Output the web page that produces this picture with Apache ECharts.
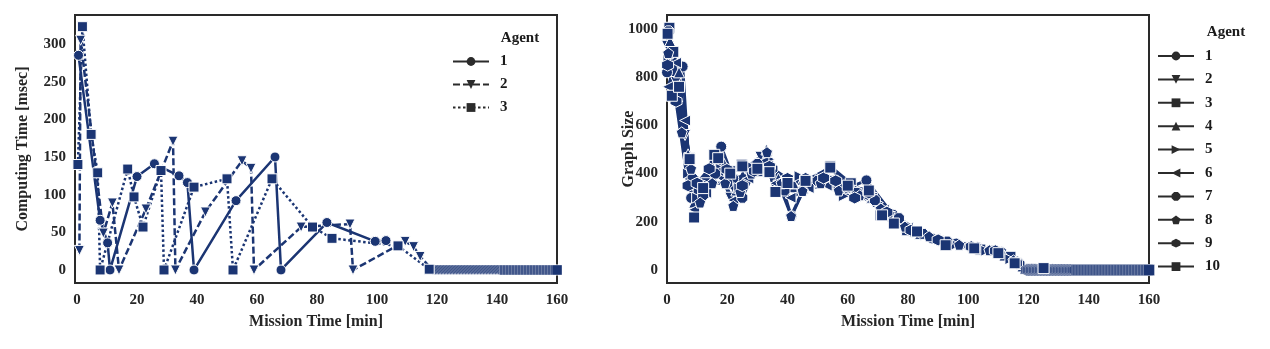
<!DOCTYPE html>
<html><head><meta charset="utf-8">
<script src="https://cdn.jsdelivr.net/npm/echarts@6/dist/echarts.min.js"></script>
<style>
html,body{margin:0;padding:0;background:#fff;width:1270px;height:349px;overflow:hidden}
#c1{position:absolute;left:0;top:0;width:600px;height:349px}
#c2{position:absolute;left:600px;top:0;width:670px;height:349px}
</style>
</head><body><div id="c1"></div><div id="c2"></div>
<script>
// ---------- DATA ----------
const xTicks = [0, 20, 40, 60, 80, 100, 120, 140, 160];
const leftYTicks = [0, 50, 100, 150, 200, 250, 300];
const rightYTicks = [0, 200, 400, 600, 800, 1000];
const leftAgents = ['1', '2', '3'];
const rightAgents = ['1', '2', '3', '4', '5', '6', '7', '8', '9', '10'];

// Computing time [msec] vs mission time [min]
const comp1 = [[0.5,285],[7.7,66],[10.2,36],[11,0],[20,124],[25.8,141],[34,125],[36.8,116],[39,0],[53,92],[66,150],[68,0],[83.3,63],[99.4,38],[103,39]];
const comp2 = [[0.8,26],[1.2,305],[8.8,49],[11.8,89],[14,0],[23,81],[32,171],[32.8,0],[42.8,77],[55,145],[58,135],[59,0],[74.7,57],[91,61],[92,0],[109.4,38],[112.2,31],[114.4,18]];
const comp2TailTimes = [118.5,119,119.5,120,120.5,121,121.5,122,122.5,123,123.5,124,124.5,125,125.5,126,126.5,127,127.5,128,128.5,129,129.5,130,130.5,131,131.5,132,132.5,133,133.5,134,134.5,135,135.5,136,136.5,137,137.5,138,138.5,139,139.5,140,140.5,141,141.5,142];
const comp3 = [[0.3,140],[1.8,323],[4.7,180],[6.9,129],[7.7,0],[16.9,134],[19,97],[22,57],[28,132],[29,0],[39,110],[50,121],[52,0],[65,121],[78.5,57],[85,42],[107,32],[117.4,1]];
const comp3TailTimes = [142.5,143,143.5,144,144.5,145,145.5,146,146.5,147,147.5,148,148.5,149,149.5,150,150.5,151,151.5,152,152.5,153,153.5,154,154.5,155,155.5,156,156.5,157,157.5,158,158.5,159,159.5,160];

// Graph size vs mission time [min]
const graph1 = [[0,820],[5.2,844],[8,299],[11,330],[18,512],[22,380],[28.2,400],[33.2,482],[41.3,223],[46,350],[52.6,379],[60,340],[66.2,372],[75,230],[81.4,158],[88,131],[96,110],[103,95],[111,75],[118.4,8],[128,3]];
const graph2 = [[0,930],[3,780],[6,560],[9.5,330],[13,360],[17,430],[21,300],[26,420],[31,470],[37,350],[43,370],[49,360],[55,370],[61,330],[67,300],[74,220],[82,160],[90,120],[100,95],[108,80],[115,35],[121,5],[130,2]];
const graph3 = [[0.8,1005],[2.1,905],[7.4,464],[10.5,330],[15.7,478],[21,410],[24.8,437],[30,410],[34,406],[36,324],[39.8,361],[47,360],[54.2,430],[61,360],[68,299],[70.9,227],[79.7,165],[92.5,103],[104,85],[114,55],[119,5],[126,2]];
const graph4 = [[1,950],[4,820],[7,480],[9,280],[15.3,380],[19,440],[23,330],[29,420],[33,500],[37,380],[42,360],[48,370],[55,360],[62,320],[68,300],[76,210],[84,150],[94,110],[104,90],[112,60],[118,15],[125,4]];
const graph5 = [[0.5,880],[3.5,700],[7,400],[10,300],[14,350],[18,420],[24,340],[28,430],[34,460],[38,340],[44,390],[51,380],[58.7,306],[64,330],[70,280],[78,200],[86,145],[96,105],[106,80],[114,45],[120,6],[128,3]];
const graph6 = [[0.3,760],[3,860],[6,620],[9,250],[13,320],[17,410],[22,290],[27,380],[32,450],[36,360],[41,300],[47,340],[53,350],[59,340],[65,310],[72,250],[80,175],[89,130],[99,100],[108,78],[116,30],[122,4]];
const graph7 = [[0.5,990],[4,760],[8.5,380],[12,310],[16,400],[20,360],[25,300],[30,440],[35,420],[39,330],[45,328],[50,370],[57,340],[63,320],[69,290],[77,215],[85,150],[93,118],[102,92],[110,72],[117,25],[124,3]];
const graph8 = [[0.4,900],[4.9,571],[8,420],[11,280],[15,360],[19.3,360],[22,266],[24.3,324],[28,400],[33.2,489],[38,360],[41.2,224],[45,328],[51,360],[57,330],[64,310],[71,255],[79,180],[87,140],[97,105],[107,82],[115,40],[121,5]];
const graph9 = [[0.2,850],[3,700],[7,350],[10,360],[14,420],[19.9,417],[25,350],[29,410],[34,430],[40,380],[46,380],[52,382],[56,370],[62.3,299],[67,320],[73,240],[81,165],[90,125],[101,97],[109,80],[116,28]];
const graph9TailTimes = [119.5,120,120.5,121,121.5,122,122.5,123,123.5,124,124.5,125,125.5,126,126.5,127,127.5,128,128.5,129,129.5,130,130.5,131,131.5,132,132.5,133,133.5,134,134.5,135,135.5];
const graph10 = [[0.2,980],[1.6,723],[4,760],[7.5,460],[9,218],[12,340],[17,464],[21,400],[25,430],[30,420],[34,406],[36,324],[40,361],[46,370],[54.2,425],[60,350],[67,330],[71.4,227],[75.3,193],[83,160],[92.5,103],[102,90],[110,70],[115.4,28],[125,8]];
const graph10TailTimes = [136,136.5,137,137.5,138,138.5,139,139.5,140,140.5,141,141.5,142,142.5,143,143.5,144,144.5,145,145.5,146,146.5,147,147.5,148,148.5,149,149.5,150,150.5,151,151.5,152,152.5,153,153.5,154,154.5,155,155.5,156,156.5,157,157.5,158,158.5,159,159.5,160];

// ---------- STYLE ----------
const NAVY = '#1b3573';
const FONT = '"Liberation Serif","DejaVu Serif",serif';
const INK = '#262626';
const SYM = {
  circle: 'circle',
  down: 'path://M0,0L10,0L5,8.7Z',
  square: 'rect',
  up: 'path://M5,0L10,8.7L0,8.7Z',
  right: 'path://M0,0L8.7,5L0,10Z',
  left: 'path://M8.7,0L0,5L8.7,10Z',
  octagon: 'path://M2.93,0L7.07,0L10,2.93L10,7.07L7.07,10L2.93,10L0,7.07L0,2.93Z',
  pentagon: 'path://M5,0L10,3.8L8.1,10L1.9,10L0,3.8Z',
  hexagon: 'path://M5,0L9.33,2.5L9.33,7.5L5,10L0.67,7.5L0.67,2.5Z'
};
// dense zero-valued tail: thinner white marker edge so the overlap reads as a dark hatch
const withTail = (pts, times) => pts.concat(times.map(t => ({ value: [t, 0], itemStyle: { borderWidth: 0.35 } })));

function mk(name, pts, symbol, size, dash, lw) {
  return {
    name, type: 'line', data: pts, symbol, symbolSize: size, showSymbol: true,
    clip: true, animation: false,
    lineStyle: { color: NAVY, width: lw, type: dash },
    itemStyle: { color: NAVY, borderColor: '#fff', borderWidth: 1 },
    emphasis: { disabled: true }
  };
}
function labelStyle(vals, margin) {
  return { customValues: vals, margin, formatter: v => String(v), fontFamily: FONT, fontWeight: 'bold', fontSize: 15, color: INK };
}
const nameStyle = { fontFamily: FONT, fontWeight: 'bold', fontSize: 16, color: INK };

function baseOption(gridLeft, ymin, ymax, yTicks, yName, yGap) {
  return {
    animation: false,
    grid: { left: gridLeft, top: 15, width: 482, height: 268, show: true, borderColor: '#2a2a2a', borderWidth: 2, backgroundColor: '#fff' },
    xAxis: {
      type: 'value', min: gridLeft === 75 ? -0.67 : 0, max: 160,
      axisLine: { show: false }, axisTick: { show: false }, splitLine: { show: false },
      axisLabel: labelStyle(xTicks, 10),
      name: 'Mission Time [min]', nameLocation: 'middle', nameGap: 31, nameTextStyle: nameStyle,
      nameMoveOverlap: false
    },
    yAxis: {
      type: 'value', min: ymin, max: ymax,
      axisLine: { show: false }, axisTick: { show: false }, splitLine: { show: false },
      axisLabel: labelStyle(yTicks, 9),
      name: yName, nameLocation: 'middle', nameRotate: 90, nameGap: yGap, nameTextStyle: nameStyle,
      nameMoveOverlap: false
    }
  };
}
function legendOpt(left, top, names, gap) {
  return {
    orient: 'vertical', left, top, padding: 0, itemWidth: 36, itemHeight: 11, itemGap: gap, selectedMode: false,
    textStyle: { fontFamily: FONT, fontWeight: 'bold', fontSize: 15, color: '#1a1a1a', padding: [0, 0, 0, 6] },
    itemStyle: { color: '#2b2b2b', borderWidth: 0 },
    lineStyle: { color: '#2b2b2b', width: 2 },
    data: names
  };
}
function titleText(x, y) {
  return [{ type: 'text', x, y, style: { text: 'Agent', font: 'bold 15px ' + FONT, fill: '#1a1a1a', align: 'center', verticalAlign: 'middle' } }];
}

// ---------- LEFT ----------
const o1 = baseOption(75, -17.3, 338.5, leftYTicks, 'Computing Time [msec]', 44);
o1.legend = legendOpt(452, 54, leftAgents, 8);
o1.graphic = titleText(520, 38);
o1.series = [
  mk(leftAgents[0], comp1, SYM.circle, 10, 'solid', 2.5),
  mk(leftAgents[1], withTail(comp2, comp2TailTimes), SYM.down, 10, [7, 3], 2.5),
  mk(leftAgents[2], withTail(comp3, comp3TailTimes), SYM.square, 10, [2.5, 2.5], 2.5)
];
echarts.init(document.getElementById('c1'), null, { renderer: 'canvas' }).setOption(o1);

// ---------- RIGHT ----------
const o2 = baseOption(67, -53.7, 1057.9, rightYTicks, 'Graph Size', 30);
o2.legend = legendOpt(557, 48.5, rightAgents, 8.4);
o2.graphic = titleText(626, 32);
const gsets = [graph1, graph2, graph3, graph4, graph5, graph6, graph7, graph8,
  withTail(graph9, graph9TailTimes), withTail(graph10, graph10TailTimes)];
const gsyms = [SYM.circle, SYM.down, SYM.square, SYM.up, SYM.right, SYM.left, SYM.octagon, SYM.pentagon, SYM.hexagon, SYM.square];
const gsizes = [11, 11, 11, 11, 11, 11, 11, 11, 12, 11];
o2.series = rightAgents.map((n, i) => mk(n, gsets[i], gsyms[i], gsizes[i], 'solid', 3));
echarts.init(document.getElementById('c2'), null, { renderer: 'canvas' }).setOption(o2);
</script></body></html>
